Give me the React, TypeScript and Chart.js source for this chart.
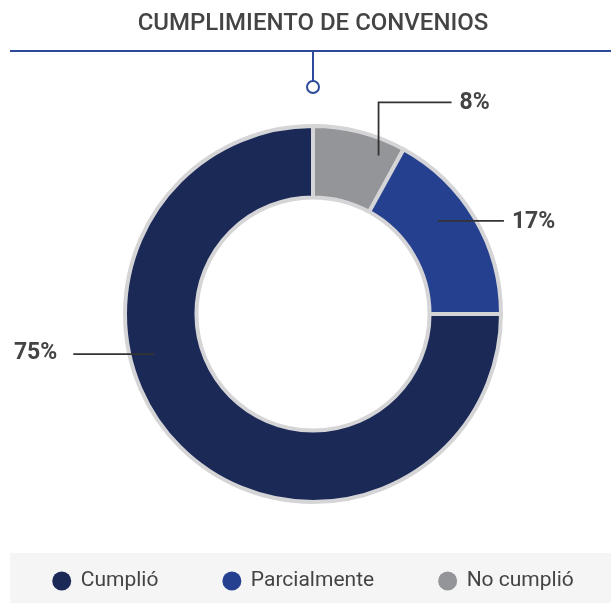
import React, { useEffect, useRef } from 'react';
import { Chart, registerables } from 'chart.js';

Chart.register(...registerables);

const TITLE = 'CUMPLIMIENTO DE CONVENIOS';
const categories = ['Cumplió', 'Parcialmente', 'No cumplió'];
const values = [75, 17, 8];
const colors = ['#1b2957', '#24408f', '#949599'];

const FONT = 'Roboto, "Noto Sans", sans-serif';
const TEXT = '#444444';
const ACCENT = '#2d4a9b';

// chart drawn counter to legend order (clockwise from top: No cumplió, Parcialmente, Cumplió)
const chartLabels = [...categories].reverse();
const chartValues = [...values].reverse();
const chartColors = [...colors].reverse();

// label leader configuration per chart slice index
const labelCfg = [
  { af: 0.78, rf: 0.77, up: 53, dx: 73 },
  { af: 0.40, rf: 0.55, up: 0, dx: 66 },
  { af: 0.614, rf: 0.66, up: 0, dx: -81 },
];

const decorPlugin = {
  id: 'decor',
  afterDraw(chart: any) {
    const ctx = chart.ctx as CanvasRenderingContext2D;
    const W = chart.width;
    const H = chart.height;
    const meta = chart.getDatasetMeta(0);
    const first = meta.data[0];
    const cx = first ? first.x : W / 2;

    ctx.save();
    // title
    ctx.fillStyle = TEXT;
    ctx.font = `500 24px ${FONT}`;
    ctx.textAlign = 'center';
    ctx.textBaseline = 'middle';
    ctx.fillText(TITLE, cx, 24);

    // rule + connector
    ctx.strokeStyle = ACCENT;
    ctx.lineWidth = 2;
    ctx.beginPath();
    ctx.moveTo(10, 51);
    ctx.lineTo(W, 51);
    ctx.moveTo(cx, 51);
    ctx.lineTo(cx, 81);
    ctx.stroke();
    ctx.beginPath();
    ctx.arc(cx, 87, 6, 0, Math.PI * 2);
    ctx.fillStyle = '#ffffff';
    ctx.fill();
    ctx.stroke();

    // slice labels
    const total = chartValues.reduce((a, b) => a + b, 0);
    meta.data.forEach((arc: any, i: number) => {
      const p = arc.getProps(['x', 'y', 'startAngle', 'endAngle', 'innerRadius', 'outerRadius'], true);
      const cfg = labelCfg[i];
      const a = p.startAngle + (p.endAngle - p.startAngle) * cfg.af;
      const r = p.innerRadius + (p.outerRadius - p.innerRadius) * cfg.rf;
      const ax = p.x + r * Math.cos(a);
      const ay = p.y + r * Math.sin(a);
      const ey = ay - cfg.up;
      const ex = ax + cfg.dx;
      ctx.strokeStyle = '#333333';
      ctx.lineWidth = 1.8;
      ctx.beginPath();
      ctx.moveTo(ax, ay);
      ctx.lineTo(ax, ey);
      ctx.lineTo(ex, ey);
      ctx.stroke();
      const txt = Math.round((chartValues[i] / total) * 100) + '%';
      ctx.fillStyle = TEXT;
      ctx.font = `bold 23px ${FONT}`;
      ctx.textBaseline = 'middle';
      if (cfg.dx >= 0) {
        ctx.textAlign = 'left';
        ctx.fillText(txt, ex + 8, ey + 1);
      } else {
        ctx.textAlign = 'right';
        ctx.fillText(txt, ex - 16, ey - 1);
      }
    });

    // legend band
    ctx.fillStyle = '#f5f5f5';
    ctx.fillRect(10, 553, W - 10, H - 553);
    ctx.font = `400 21px ${FONT}`;
    const rad = 9.5;
    const textGap = 19;
    const itemGap = 64;
    const widths = categories.map((c) => rad + textGap + ctx.measureText(c).width);
    const totalW = widths.reduce((a, b) => a + b, 0) + itemGap * (categories.length - 1);
    let x = cx - totalW / 2;
    const ly = 581;
    categories.forEach((c, i) => {
      ctx.fillStyle = colors[i];
      ctx.beginPath();
      ctx.arc(x + rad, ly, rad, 0, Math.PI * 2);
      ctx.fill();
      ctx.fillStyle = TEXT;
      ctx.textAlign = 'left';
      ctx.textBaseline = 'middle';
      ctx.fillText(c, x + rad + textGap, ly);
      x += widths[i] + itemGap;
    });
    ctx.restore();
  },
};

export default function App() {
  const ref = useRef<HTMLCanvasElement | null>(null);
  useEffect(() => {
    if (!ref.current) return;
    const chart = new Chart(ref.current, {
      type: 'doughnut',
      data: {
        labels: chartLabels,
        datasets: [
          {
            data: chartValues,
            backgroundColor: chartColors,
            borderColor: '#d5d5d7',
            borderWidth: 4,
            hoverOffset: 0,
          },
        ],
      },
      options: {
        responsive: false,
        animation: false,
        cutout: '62%',
        layout: { padding: { top: 124, bottom: 99, left: 15, right: 0 } },
        plugins: {
          legend: { display: false },
          tooltip: { enabled: false },
        },
      },
      plugins: [decorPlugin],
    });
    return () => chart.destroy();
  }, []);
  return (
    <div style={{ position: 'fixed', left: 0, top: 0, width: 611, height: 603, background: '#fff' }}>
      <canvas ref={ref} width={611} height={603} style={{ display: 'block' }} />
    </div>
  );
}
